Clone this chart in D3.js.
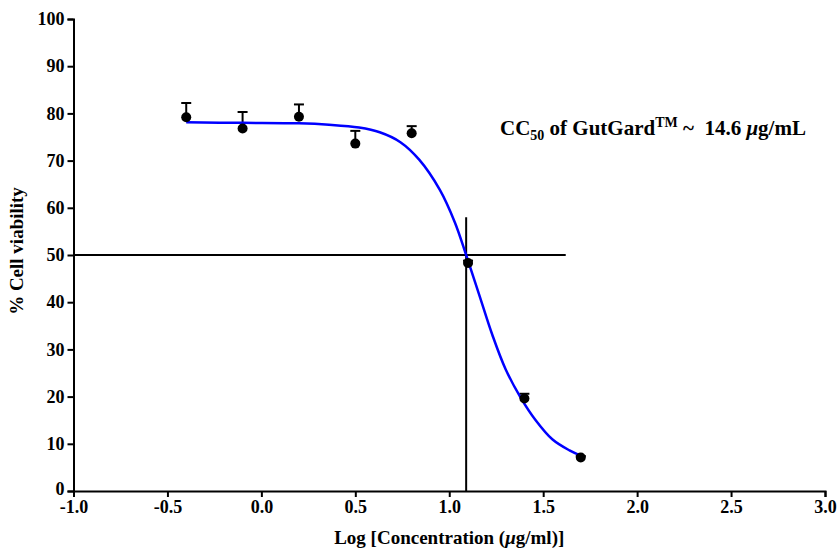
<!DOCTYPE html>
<html>
<head>
<meta charset="utf-8">
<script src="https://cdn.jsdelivr.net/npm/d3@7"></script>
<style>
  body { margin: 0; background: #fff; }
  text { font-family: 'Liberation Serif', 'Times New Roman', serif; font-weight: bold; }
</style>
</head>
<body>
<svg></svg>
<script>
// measured points (log concentration vs % viability, mean and upper SD)
const logConc = [-0.4, -0.1, 0.2, 0.5, 0.8, 1.1, 1.4, 1.7]
const viability = [79.2, 76.8, 79.3, 73.6, 75.8, 48.3, 19.6, 7.1]
const sdUpper = [3.0, 3.5, 2.6, 2.7, 1.5, 0.5, 1.0, 0.3]

// fitted curve
const fitX = [-0.4, -0.1, 0.2, 0.36, 0.52, 0.63, 0.74, 0.84, 0.95, 1.03, 1.09, 1.16, 1.23, 1.3, 1.38, 1.46, 1.55, 1.64, 1.7]
const fitY = [78.1, 78.0, 77.9, 77.6, 77.0, 76.0, 73.9, 70.2, 63.8, 56.9, 50.0, 41.5, 33.0, 25.8, 19.8, 15.0, 10.9, 8.6, 7.5]

// CC50 guide lines
const cc50Log = 1.09
const guideTop = 58
const guideRight = 1.62

const xTicks = [-1.0, -0.5, 0.0, 0.5, 1.0, 1.5, 2.0, 2.5, 3.0]
const yTicks = [0, 10, 20, 30, 40, 50, 60, 70, 80, 90, 100]

const width = 837,
    height = 551
const margin = { top: 19, right: 12, bottom: 60, left: 73.5 }

const svg = d3.select('svg').attr('width', width).attr('height', height)

const x = d3.scaleLinear().domain([-1, 3]).range([margin.left, width - margin.right])
const y = d3.scaleLinear().domain([0, 100]).range([height - margin.bottom, margin.top])

// axes
const fmt = (d) => d3.format('.1f')(d).replace('−', '-')
const xAxis = svg.append('g')
    .attr('transform', `translate(0,${y(0)})`)
    .call(d3.axisBottom(x).tickValues(xTicks).tickFormat(fmt).tickSizeOuter(0).tickSize(6).tickPadding(3))
const yAxis = svg.append('g')
    .attr('transform', `translate(${x(-1)},0)`)
    .call(d3.axisLeft(y).tickValues(yTicks).tickSizeOuter(0).tickSize(6).tickPadding(3))

for (const ax of [xAxis, yAxis]) {
    ax.select('.domain').attr('stroke', '#000').attr('stroke-width', 2)
    ax.selectAll('.tick line').attr('stroke', '#000').attr('stroke-width', 2)
    ax.selectAll('.tick text').attr('fill', '#000').style('font-size', '18px')
}
// lift the 0 label a touch so it clears the -1.0 below it
yAxis.selectAll('.tick text').filter((d) => d === 0).attr('dy', '0.2em')

// guide lines
svg.append('line')
    .attr('x1', x(-1)).attr('x2', x(guideRight))
    .attr('y1', y(50)).attr('y2', y(50))
    .attr('stroke', '#000').attr('stroke-width', 2)
svg.append('line')
    .attr('x1', x(cc50Log)).attr('x2', x(cc50Log))
    .attr('y1', y(0)).attr('y2', y(guideTop))
    .attr('stroke', '#000').attr('stroke-width', 2)

// error bars (upper only)
const pts = logConc.map((d, i) => ({ x: d, y: viability[i], e: sdUpper[i] }))
const eb = svg.append('g').attr('stroke', '#000').attr('stroke-width', 2)
eb.selectAll('line.v').data(pts).join('line')
    .attr('x1', (d) => x(d.x)).attr('x2', (d) => x(d.x))
    .attr('y1', (d) => y(d.y)).attr('y2', (d) => y(d.y + d.e))
eb.selectAll('line.c').data(pts).join('line')
    .attr('x1', (d) => x(d.x) - 5).attr('x2', (d) => x(d.x) + 5)
    .attr('y1', (d) => y(d.y + d.e)).attr('y2', (d) => y(d.y + d.e))

// fit curve
const line = d3.line()
    .x((d) => x(d[0]))
    .y((d) => y(d[1]))
    .curve(d3.curveCatmullRom.alpha(0.5))
svg.append('path')
    .datum(fitX.map((d, i) => [d, fitY[i]]))
    .attr('fill', 'none')
    .attr('stroke', '#0000ff')
    .attr('stroke-width', 2.5)
    .attr('d', line)

// points
svg.append('g').selectAll('circle').data(pts).join('circle')
    .attr('cx', (d) => x(d.x)).attr('cy', (d) => y(d.y))
    .attr('r', 5).attr('fill', '#000')

// axis titles
svg.append('text')
    .attr('x', x(1.0)).attr('y', 544)
    .attr('text-anchor', 'middle')
    .style('font-size', '19px')
    .html('Log [Concentration (<tspan font-style="italic">μ</tspan>g/ml)]')
svg.append('text')
    .attr('transform', `translate(23,${y(50) - 4}) rotate(-90)`)
    .attr('text-anchor', 'middle')
    .style('font-size', '19px')
    .text('% Cell viability')

// annotation
const ann = svg.append('text')
    .attr('x', 500).attr('y', 135)
    .style('font-size', '21px')
ann.append('tspan').text('CC')
ann.append('tspan').attr('dy', 5).style('font-size', '14px').text('50')
ann.append('tspan').attr('dy', -5).text(' of GutGard')
ann.append('tspan').attr('dy', -8).style('font-size', '14px').text('TM')
ann.append('tspan').attr('dy', 8).text('\u00a0~\u00a0 14.6 ')
ann.append('tspan').style('font-style', 'italic').text('μ')
ann.append('tspan').text('g/mL')
</script>
</body>
</html>
